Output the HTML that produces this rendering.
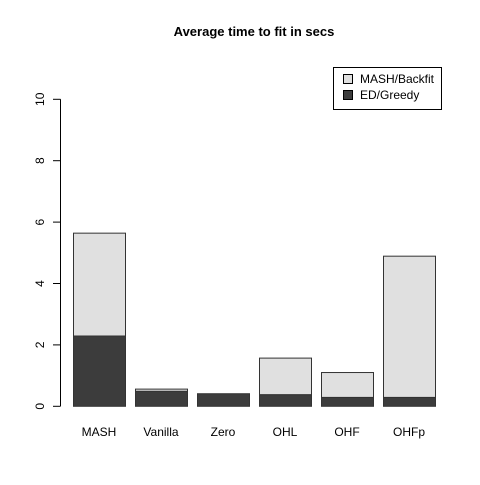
<!DOCTYPE html>
<html><head><meta charset="utf-8"><style>body{margin:0;background:#fff}svg{font-family:"Liberation Sans",Arial,sans-serif}</style></head>
<body>
<svg id="chart" width="480" height="480" xmlns="http://www.w3.org/2000/svg">
<text x="254" y="36" text-anchor="middle" font-size="13" font-weight="bold">Average time to fit in secs</text>
<g id="bars"></g><g id="yaxis"></g>
<g>
<rect x="333.5" y="67.5" width="108" height="42" fill="#fff" stroke="#000"/>
<rect x="343.5" y="74.5" width="9" height="9" fill="#e0e0e0" stroke="#000"/>
<text x="360" y="83" font-size="12">MASH/Backfit</text>
<rect x="343.5" y="90.5" width="9" height="9" fill="#3c3c3c" stroke="#000"/>
<text x="360" y="99" font-size="12">ED/Greedy</text>
</g>
</svg>
<script>
const categories=["MASH","Vanilla","Zero","OHL","OHF","OHFp"];
const edGreedy=[2.29,0.49,0.41,0.38,0.29,0.29];
const backfit=[3.35,0.07,0,1.19,0.81,4.60];
const yTicks=[0,2,4,6,8,10];
const NS="http://www.w3.org/2000/svg";
const y=v=>406.3-v*30.7;
const x=i=>73+i*62;
const bw=52;
const bars=document.getElementById('bars');
function mk(t,a){const e=document.createElementNS(NS,t);for(const k in a)e.setAttribute(k,a[k]);return e;}
categories.forEach((c,i)=>{
  const r1=mk('rect',{x:x(i)+0.5,y:y(edGreedy[i]),width:bw,height:y(0)-y(edGreedy[i]),fill:'#3c3c3c',stroke:'#333'});
  
  
  bars.appendChild(r1);
  const tot=edGreedy[i]+backfit[i];
  if(backfit[i]>0){
  const r2=mk('rect',{x:x(i)+0.5,y:y(tot),width:bw,height:y(edGreedy[i])-y(tot),fill:'#e0e0e0',stroke:'#333'});
  
  
  bars.appendChild(r2);}
  const t=mk('text',{x:x(i)+bw/2,y:436,'text-anchor':'middle','font-size':'12'});
  t.textContent=c;
  
  
  bars.appendChild(t);
});
const ya=document.getElementById('yaxis');
const ax=mk('line',{x1:60.5,x2:60.5,y1:y(0),y2:y(10),stroke:'#000'});


ya.appendChild(ax);
yTicks.forEach(v=>{
  ya.appendChild(mk('line',{x1:53,x2:60.5,y1:y(v),y2:y(v),stroke:'#000'}));
  const t=mk('text',{x:0,y:0,'text-anchor':'middle','font-size':'12',transform:`translate(44,${y(v)}) rotate(-90)`});
  t.textContent=v;
  
  
  ya.appendChild(t);
});
</script>
</body></html>
